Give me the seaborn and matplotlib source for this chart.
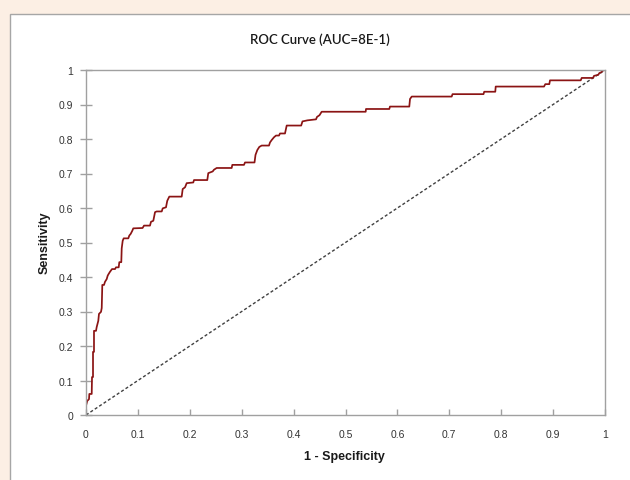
import matplotlib
matplotlib.use("Agg")
import matplotlib.pyplot as plt
from matplotlib.patches import Rectangle
import seaborn as sns
import pandas as pd

# ROC curve vertices (1 - specificity, sensitivity)
fpr = [0.0, 0.0, 0.0025, 0.0058, 0.0064, 0.011, 0.0116, 0.0135, 0.0135, 0.0154,
       0.0154, 0.0193, 0.0206, 0.0237, 0.025, 0.0289, 0.0303, 0.0314, 0.0347, 0.0366,
       0.0399, 0.0418, 0.0437, 0.0462, 0.0501, 0.0559, 0.0578, 0.063, 0.0642, 0.068,
       0.0688, 0.0707, 0.0726, 0.0815, 0.0834, 0.0861, 0.0892, 0.0911, 0.109, 0.1118,
       0.1233, 0.1252, 0.1297, 0.133, 0.1362, 0.1459, 0.1478, 0.1541, 0.1566, 0.1605,
       0.1844, 0.1863, 0.1908, 0.194, 0.2067, 0.2081, 0.2337, 0.2356, 0.2441, 0.2466,
       0.2518, 0.2807, 0.2819, 0.3044, 0.3064, 0.3247, 0.3266, 0.3301, 0.3339, 0.3385,
       0.3526, 0.3545, 0.3578, 0.3622, 0.3661, 0.3719, 0.3738, 0.3834, 0.3867, 0.4146,
       0.4171, 0.4264, 0.4432, 0.4451, 0.4499, 0.4541, 0.5389, 0.5395, 0.5844, 0.5857,
       0.6229, 0.6243, 0.6276, 0.7046, 0.7062, 0.7659, 0.7673, 0.7886, 0.7894, 0.8825,
       0.885, 0.8927, 0.894, 0.9532, 0.9551, 0.9769, 0.9788, 0.9871, 0.989, 0.9923,
       0.9956, 1.0]
tpr = [0.0, 0.027, 0.041, 0.046, 0.061, 0.061, 0.110, 0.110, 0.183, 0.183,
       0.244, 0.244, 0.255, 0.273, 0.293, 0.299, 0.310, 0.377, 0.377, 0.386,
       0.394, 0.404, 0.409, 0.415, 0.423, 0.423, 0.428, 0.428, 0.443, 0.443,
       0.483, 0.505, 0.512, 0.512, 0.520, 0.525, 0.534, 0.541, 0.542, 0.549,
       0.549, 0.560, 0.563, 0.588, 0.590, 0.590, 0.599, 0.602, 0.621, 0.633,
       0.633, 0.655, 0.660, 0.672, 0.674, 0.681, 0.681, 0.701, 0.706, 0.711,
       0.716, 0.716, 0.725, 0.725, 0.732, 0.732, 0.754, 0.768, 0.777, 0.781,
       0.781, 0.790, 0.797, 0.805, 0.810, 0.810, 0.816, 0.816, 0.839, 0.839,
       0.851, 0.854, 0.857, 0.864, 0.869, 0.879, 0.879, 0.887, 0.887, 0.894,
       0.894, 0.916, 0.923, 0.923, 0.930, 0.930, 0.937, 0.937, 0.952, 0.952,
       0.959, 0.959, 0.970, 0.970, 0.977, 0.977, 0.983, 0.986, 0.991, 0.993,
       0.998, 1.0]

diag_x = [0.0, 1.0]
diag_y = [0.0, 1.0]

tick_vals = [0, 0.1, 0.2, 0.3, 0.4, 0.5, 0.6, 0.7, 0.8, 0.9, 1]
tick_labels = ["0", "0.1", "0.2", "0.3", "0.4", "0.5", "0.6", "0.7", "0.8", "0.9", "1"]

title = "ROC Curve (AUC=8E-1)"
xlabel = "1 - Specificity"
ylabel = "Sensitivity"

sns.set_theme(style="white")
plt.rcParams["font.family"] = ["Liberation Sans", "DejaVu Sans"]

W, H = 630, 481
fig = plt.figure(figsize=(W / 100, H / 100), dpi=100)
fig.patch.set_facecolor("#FCEFE4")

# white chart-area panel
panel = Rectangle((9.5 / W, -0.05), 1.1, 1 - 14.5 / H + 0.05,
                  transform=fig.transFigure, facecolor="white",
                  edgecolor="#A6A6A6", linewidth=1.0, zorder=-10)
fig.patches.append(panel)

ax = fig.add_axes([86 / W, 1 - 416 / H, (605 - 86) / W, (416 - 71) / H])
ax.set_zorder(5)
ax.set_facecolor("white")

roc_df = pd.DataFrame({"fpr": fpr, "tpr": tpr})
diag_df = pd.DataFrame({"x": diag_x, "y": diag_y})

sns.lineplot(data=diag_df, x="x", y="y", ax=ax, color="#404040",
             linewidth=1.0, linestyle=(0, (2.2, 1.6)), sort=False, estimator=None)
sns.lineplot(data=roc_df, x="fpr", y="tpr", ax=ax, color="#8B1414",
             linewidth=1.25, sort=False, estimator=None)

ax.set_xlim(0, 1)
ax.set_ylim(0, 1)
ax.set_xticks(tick_vals)
ax.set_xticklabels(tick_labels)
ax.set_yticks(tick_vals)
ax.set_yticklabels(tick_labels)

for s in ax.spines.values():
    s.set_color("#A0A0A0")
    s.set_linewidth(1.0)
    s.set_visible(True)

ax.tick_params(axis="x", direction="in", length=4, width=1, color="#A0A0A0",
               labelsize=7.5, labelcolor="#333333", pad=10, bottom=True)
ax.tick_params(axis="y", direction="inout", length=8, width=1, color="#A0A0A0",
               labelsize=7.5, labelcolor="#333333", pad=5, left=True)
ax.grid(False)

ax.set_xlabel("")
ax.set_ylabel("")
fig.text(344 / W, 1 - 457 / H, xlabel, ha="center", va="center",
         fontsize=9, fontweight="bold", color="#1a1a1a")
fig.text(45 / W, 1 - 243 / H, ylabel, ha="center", va="center", rotation=90,
         fontsize=9, fontweight="bold", color="#1a1a1a")
fig.text(320 / W, 1 - 40 / H, title, ha="center", va="center",
         fontsize=9.5, color="#1a1a1a", fontweight="semibold",
         family=["Lato", "DejaVu Sans"])

fig.savefig("out.png", dpi=100, facecolor=fig.get_facecolor())
